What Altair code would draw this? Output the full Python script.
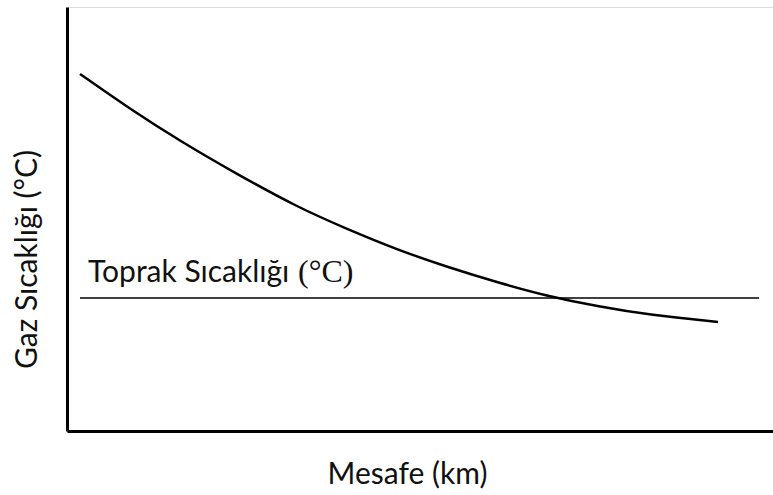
import altair as alt
import pandas as pd

# Gas temperature curve (arbitrary units)
dist = [13, 63, 113, 168, 230, 280, 331, 380, 436, 476, 533, 583, 651]
gas = [357, 322, 290, 258, 224, 202, 181, 164, 147, 136, 124, 116, 109]

# Soil temperature reference line
soil_start = [13]
soil_end = [692]
soil_level = [133]

# Label of soil line, split into sans part and serif unit part
label_x = [21, 231]
label_y = [149, 149]
label_text = ["Toprak Sıcaklığı", "(°C)"]
label_font = ["Lato", "Liberation Serif"]

W, H = 706, 424

curve_df = pd.DataFrame({"x": dist, "y": gas})
soil_df = pd.DataFrame({"x": soil_start, "x2": soil_end, "y": soil_level})
lab_df = pd.DataFrame({"x": label_x, "y": label_y, "t": label_text, "f": label_font})

xs = alt.Scale(domain=[0, W], nice=False, zero=False)
ys = alt.Scale(domain=[0, H], nice=False, zero=False)

xax = alt.Axis(title="Mesafe (km)", labels=False, ticks=False, grid=False,
               domainColor="black", domainWidth=3, titleFont="Lato",
               titleFontSize=30, titleFontWeight="normal", titleColor="#111",
               titleX=340, titleY=52, titleBaseline="alphabetic")
yax = alt.Axis(title="Gaz Sıcaklığı (°C)", labels=False, ticks=False, grid=False,
               domainColor="black", domainWidth=3, titleFont="Lato",
               titleFontSize=30, titleFontWeight="normal", titleColor="#111",
               titleX=-31, titleY=252, titleBaseline="alphabetic", titleAngle=270)

curve = alt.Chart(curve_df).mark_line(color="black", strokeWidth=2.5, interpolate="basis").encode(
    x=alt.X("x:Q", scale=xs, axis=xax),
    y=alt.Y("y:Q", scale=ys, axis=yax),
)

soil = alt.Chart(soil_df).mark_rule(color="black", strokeWidth=1.5).encode(
    x=alt.X("x:Q", scale=xs), x2="x2:Q", y=alt.Y("y:Q", scale=ys)
)

lab_sans = alt.Chart(lab_df[lab_df.f == "Lato"]).mark_text(
    align="left", baseline="alphabetic", font="Lato", fontSize=30, color="#111"
).encode(x=alt.X("x:Q", scale=xs), y=alt.Y("y:Q", scale=ys), text="t:N")

lab_serif = alt.Chart(lab_df[lab_df.f != "Lato"]).mark_text(
    align="left", baseline="alphabetic", font="Liberation Serif", fontSize=32, color="#111"
).encode(x=alt.X("x:Q", scale=xs), y=alt.Y("y:Q", scale=ys), text="t:N")

chart = alt.layer(curve, soil, lab_sans, lab_serif).properties(
    width=W, height=H,
    autosize=alt.AutoSizeParams(type="none"),
    padding={"left": 67, "top": 7, "right": 0, "bottom": 64},
).configure_view(stroke=None).configure(background="white")

chart.save("out.html", embed_options={"renderer": "svg", "actions": False})
